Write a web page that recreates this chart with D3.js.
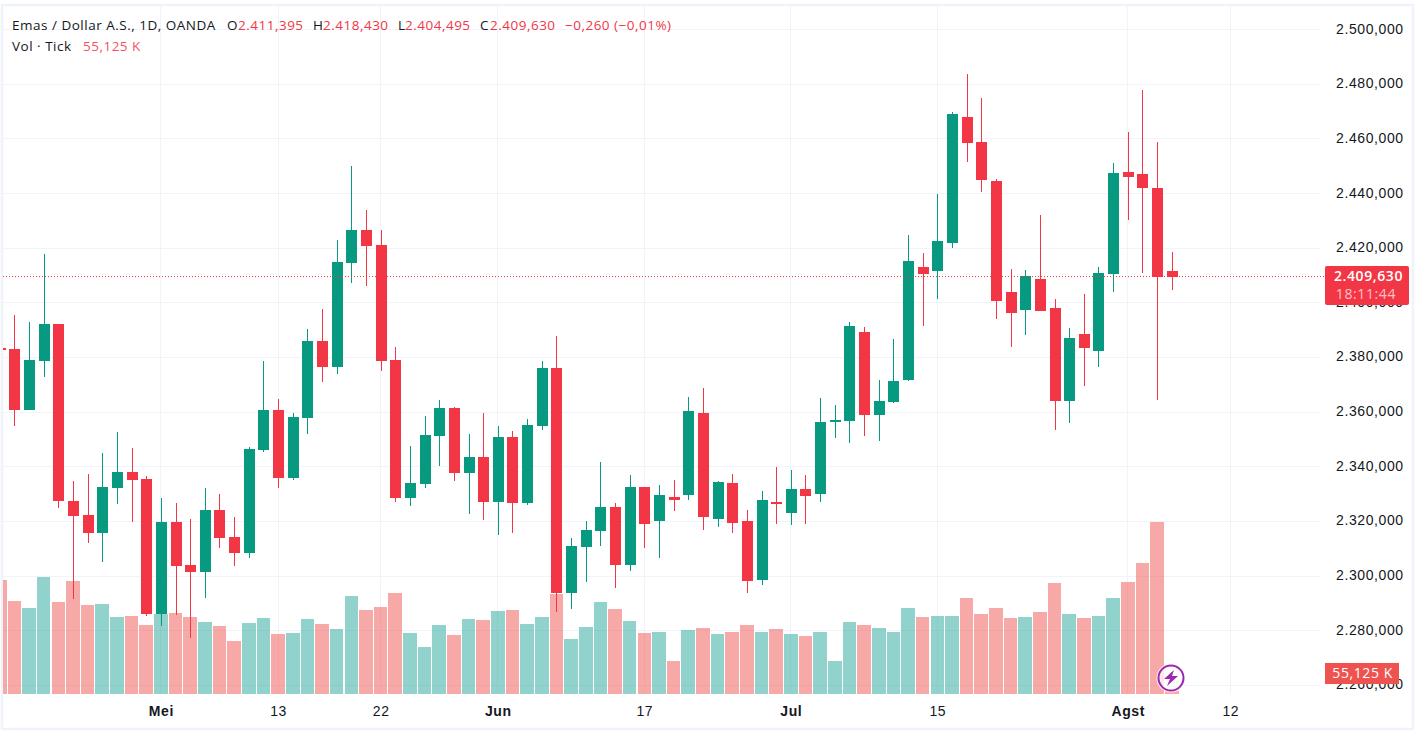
<!DOCTYPE html>
<html>
<head>
<meta charset="utf-8">
<script src="https://cdn.jsdelivr.net/npm/d3@7"></script>
<style>
  html, body { margin: 0; padding: 0; background: #fff; }
  svg { display: block; font-family: "Open Sans", sans-serif; }
  .axis path, .axis line { display: none; }
  .axis text { fill: #131722; font-size: 14px; letter-spacing: .6px; }
  .tag { letter-spacing: .6px; }
  .legend { letter-spacing: .5px; }
</style>
</head>
<body>
<svg id="chart" width="1415" height="735"></svg>
<script>
// first entry is the cut off candle at the left edge, index -1
var opens = [2383.5,2383.1,2360.8,2378.7,2392.3,2327.5,2322.3,2315.8,2332.2,2338.1,2335.5,2286.1,2319.8,2304.0,2301.5,2324.2,2314.3,2308.4,2346.1,2360.8,2335.9,2357.9,2386.0,2376.5,2414.6,2426.7,2421.2,2379.1,2328.6,2333.7,2351.3,2361.5,2337.7,2343.6,2327.1,2350.9,2326.7,2354.9,2376.2,2293.8,2310.6,2316.5,2325.3,2304.0,2332.6,2320.1,2328.9,2329.7,2359.7,2320.9,2334.1,2320.1,2298.5,2327.1,2323.1,2331.9,2330.0,2356.8,2356.8,2389.3,2359.0,2363.7,2371.8,2413.1,2411.7,2421.9,2468.0,2458.9,2444.6,2404.0,2397.4,2408.7,2398.1,2364.1,2388.6,2382.4,2410.6,2447.9,2447.2,2442.0,2411.7];
var highs = [2383.5,2395.5,2393.0,2417.9,2392.3,2334.8,2337.4,2345.0,2352.7,2346.9,2336.6,2328.6,2326.7,2320.9,2332.2,2330.0,2321.6,2347.2,2378.7,2364.8,2359.7,2390.4,2397.7,2423.0,2450.1,2434.0,2426.7,2383.8,2347.6,2358.6,2364.4,2361.9,2352.0,2359.7,2354.9,2353.1,2357.5,2378.7,2387.9,2313.9,2320.1,2341.7,2326.7,2337.0,2332.6,2333.3,2335.1,2365.5,2368.8,2334.8,2337.4,2324.2,2331.1,2339.9,2338.8,2337.0,2365.2,2362.6,2393.0,2391.2,2371.8,2386.8,2424.8,2418.2,2439.9,2469.9,2483.8,2475.0,2445.3,2412.4,2412.0,2432.2,2401.4,2390.8,2403.2,2413.1,2451.2,2462.5,2477.9,2458.9,2418.6];
var lows = [2382.7,2354.9,2360.8,2372.9,2324.9,2291.6,2312.1,2305.1,2326.4,2319.8,2285.4,2281.7,2285.7,2277.3,2292.0,2310.3,2303.7,2306.6,2345.4,2332.2,2335.1,2352.0,2371.0,2374.0,2407.3,2406.2,2375.0,2327.1,2325.6,2332.2,2340.3,2334.8,2322.7,2320.5,2315.0,2315.8,2326.0,2353.5,2286.8,2288.0,2297.8,2311.0,2295.6,2301.8,2310.3,2306.6,2323.8,2327.8,2316.9,2318.0,2315.8,2293.8,2296.7,2319.0,2318.7,2319.0,2327.1,2350.5,2348.7,2351.3,2349.4,2363.3,2371.4,2391.5,2401.4,2420.1,2451.6,2440.6,2394.1,2383.8,2388.2,2397.0,2353.5,2356.0,2369.6,2376.5,2404.0,2430.3,2411.0,2364.4,2404.7];
var closes = [2382.7,2360.8,2379.1,2392.3,2327.5,2322.0,2315.8,2332.6,2338.1,2335.1,2286.1,2319.8,2303.7,2301.5,2324.2,2313.9,2308.4,2346.5,2360.8,2335.9,2358.2,2386.0,2376.5,2415.0,2426.7,2420.8,2378.7,2328.6,2334.1,2351.6,2361.5,2337.7,2343.6,2327.1,2350.9,2326.7,2355.3,2376.2,2293.8,2311.0,2316.9,2325.3,2304.0,2332.6,2319.0,2329.7,2327.8,2360.4,2321.6,2334.4,2319.4,2298.2,2327.8,2326.4,2331.9,2329.3,2356.4,2357.1,2391.5,2359.0,2364.1,2371.4,2415.3,2410.6,2422.6,2469.1,2458.5,2445.0,2400.7,2396.3,2409.8,2397.0,2364.1,2387.1,2383.5,2411.0,2447.5,2446.1,2442.0,2409.5,2409.5];
// volume in K ticks
var volumes = [2280,1860,1720,2340,1840,2260,1780,1800,1540,1560,1380,1600,1620,1540,1440,1360,1060,1420,1520,1200,1220,1500,1400,1300,1960,1680,1740,2020,1220,940,1380,1180,1500,1480,1660,1680,1400,1540,2000,1100,1340,1840,1700,1460,1220,1240,660,1280,1320,1200,1240,1380,1240,1300,1200,1160,1240,660,1440,1380,1320,1240,1720,1540,1560,1560,1920,1600,1720,1520,1540,1640,2220,1600,1520,1560,1920,2240,2620,3440,55.125];
var volumeUp = [0,0,1,1,0,0,0,1,1,0,0,1,0,0,1,0,0,1,1,0,1,1,0,1,1,0,0,0,1,1,1,0,1,0,1,0,1,1,0,1,1,1,0,1,0,1,0,1,0,1,0,0,1,0,1,0,1,1,1,0,1,1,1,0,1,1,0,0,0,0,1,0,0,1,0,1,1,0,0,0,0];

var priceTicks = [2260,2280,2300,2320,2340,2360,2380,2400,2420,2440,2460,2480,2500];
var timeIndex = [10,18,25,33,43,53,63,76,83];
var timeLabels = ["Mei","13","22","Jun","17","Jul","15","Agst","12"];
var monthLabels = ["Mei","Jun","Jul","Agst"];
var lastClose = 2409.63;

var upColor = "#089981", downColor = "#f23645", gridColor = "#f0f3fa";

var svg = d3.select("#chart");
var plotLeft = 3, plotRight = 1320, plotBottom = 694;

var x = d3.scaleLinear().domain([0, 79]).range([14.4, 1171.7]);
var y = d3.scaleLinear().domain([2260, 2500]).range([685.3, 29.66]);
var yVol = d3.scaleLinear().domain([0, 3440]).range([plotBottom, 522]);

var locale = d3.formatLocale({decimal: ",", thousands: ".", grouping: [3], currency: ["", ""]});
var priceFormat = locale.format(",.3f");

svg.append("defs").append("clipPath").attr("id", "plot")
  .append("rect").attr("x", plotLeft).attr("y", 5).attr("width", plotRight - plotLeft).attr("height", plotBottom - 5);

// outer frame
svg.append("rect")
  .attr("x", 2).attr("y", 5).attr("width", 1411).attr("height", 724)
  .attr("fill", "#fff").attr("stroke", gridColor).attr("stroke-width", 2.5);

// grid
var grid = svg.append("g").attr("shape-rendering", "crispEdges");
grid.selectAll("line.h").data(priceTicks).enter().append("line")
    .attr("x1", plotLeft).attr("x2", plotRight)
    .attr("y1", function(d) { return y(d); })
    .attr("y2", function(d) { return y(d); })
    .attr("stroke", gridColor);
grid.selectAll("line.v").data(timeIndex).enter().append("line")
    .attr("x1", function(d) { return x(d); })
    .attr("x2", function(d) { return x(d); })
    .attr("y1", 5).attr("y2", plotBottom)
    .attr("stroke", gridColor);

var plot = svg.append("g").attr("clip-path", "url(#plot)");
var idx = d3.range(opens.length);
function pos(i) { return x(i - 1); }  // array index 0 is candle -1

// volume
plot.append("g").attr("shape-rendering", "crispEdges")
  .selectAll("rect").data(idx).enter().append("rect")
    .attr("x", function(i) { return pos(i) - 6.8; })
    .attr("width", 13.6)
    .attr("y", function(i) { return yVol(volumes[i]); })
    .attr("height", function(i) { return plotBottom - yVol(volumes[i]); })
    .attr("fill", function(i) { return volumeUp[i] ? "rgba(38,166,154,.5)" : "rgba(239,83,80,.5)"; });

// candles
var candle = plot.append("g").attr("shape-rendering", "crispEdges")
  .selectAll("g").data(idx).enter().append("g")
    .attr("fill", function(i) { return closes[i] >= opens[i] ? upColor : downColor; });
candle.append("rect")
    .attr("x", function(i) { return Math.round(pos(i)) - 0.5; })
    .attr("width", 1)
    .attr("y", function(i) { return y(highs[i]); })
    .attr("height", function(i) { return y(lows[i]) - y(highs[i]); });
candle.append("rect")
    .attr("x", function(i) { return Math.round(pos(i)) - 5.5; })
    .attr("width", 11)
    .attr("y", function(i) { return y(Math.max(opens[i], closes[i])); })
    .attr("height", function(i) { return Math.max(1.5, Math.abs(y(opens[i]) - y(closes[i]))); });

// last price line
svg.append("line")
  .attr("x1", plotLeft).attr("x2", 1325)
  .attr("y1", y(lastClose)).attr("y2", y(lastClose))
  .attr("stroke", downColor).attr("stroke-dasharray", "1 2");

// axes
svg.append("g").attr("class", "axis").attr("transform", "translate(1336,-1)")
  .call(d3.axisRight(y).tickValues(priceTicks).tickSize(0).tickPadding(0).tickFormat(priceFormat));

var xAxis = svg.append("g").attr("class", "axis").attr("transform", "translate(0," + plotBottom + ")")
  .call(d3.axisBottom(x).tickValues(timeIndex).tickSize(0).tickPadding(12)
    .tickFormat(function(d, i) { return timeLabels[i]; }));
xAxis.selectAll("text")
  .attr("font-weight", function(d, i) { return monthLabels.indexOf(timeLabels[i]) >= 0 ? 600 : 400; });

// price and volume tags on the scale
svg.append("rect").attr("x", 1325).attr("y", 266).attr("width", 84).attr("height", 39).attr("rx", 2).attr("fill", downColor);
svg.append("text").attr("class", "tag").attr("x", 1403).attr("y", 281).attr("text-anchor", "end")
  .attr("fill", "#fff").attr("font-size", 14).attr("font-weight", 600).text("2.409,630");
svg.append("text").attr("class", "tag").attr("x", 1396).attr("y", 299).attr("text-anchor", "end")
  .attr("fill", "#fcc3c8").attr("font-size", 14).text("18:11:44");
svg.append("rect").attr("x", 1325).attr("y", 663).attr("width", 74).attr("height", 21).attr("fill", "#ef5350");
svg.append("text").attr("class", "tag").attr("x", 1393).attr("y", 678).attr("text-anchor", "end")
  .attr("fill", "#fff").attr("font-size", 14).text("55,125 K");

// legend
function legend(xp, yp, txt, color) {
  svg.append("text").attr("class", "legend").attr("x", xp).attr("y", yp).attr("fill", color).attr("font-size", 13.5).text(txt);
}
var ink = "#131722";
legend(12, 30, "Emas / Dollar A.S., 1D, OANDA", ink);
legend(227, 30, "O", ink);
legend(238, 30, "2.411,395", downColor);
legend(313, 30, "H", ink);
legend(323, 30, "2.418,430", downColor);
legend(398, 30, "L", ink);
legend(405, 30, "2.404,495", downColor);
legend(480, 30, "C", ink);
legend(490, 30, "2.409,630", downColor);
legend(565, 30, "−0,260 (−0,01%)", downColor);
legend(12, 51, "Vol · Tick", ink);
legend(83, 51, "55,125 K", "#f7525f");

// lightning badge
var badge = svg.append("g").attr("transform", "translate(1171,678)");
badge.append("circle").attr("r", 14.5).attr("fill", "#fff").attr("fill-opacity", 0.75);
badge.append("circle").attr("r", 12.5).attr("fill", "none").attr("stroke", "#9c27b0").attr("stroke-width", 2);
badge.append("path").attr("d", "M3-8 L-7 1 L-1 1 L-4 8 L7-2 L1-2 Z").attr("fill", "#9c27b0");
</script>
</body>
</html>
